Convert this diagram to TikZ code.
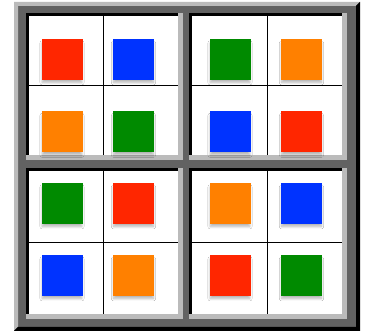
\documentclass[tikz,border=0pt]{standalone}
\usetikzlibrary{shadows.blur}
\definecolor{framedark}{RGB}{98, 98, 98}
\definecolor{framelight}{RGB}{187, 187, 187}
\definecolor{tilered}{RGB}{255, 38, 0}
\definecolor{tileblue}{RGB}{0, 51, 255}
\definecolor{tileorange}{RGB}{255, 128, 0}
\definecolor{tilegreen}{RGB}{0, 138, 0}

% one quadrant: white cells, black edge top/left, light edge bottom/right
\newcommand{\quadbox}[4]{%
  \fill[framelight] (#1-3,#2-5) rectangle (#3+5,#4+3);
  \fill[black] (#1-3,#2) rectangle (#3,#4+3);
  \fill[white] (#1,#2) rectangle (#3,#4);
  \draw[cellline] ({(#1+#3)/2},#2) -- ({(#1+#3)/2},#4);
  \draw[cellline] (#1,{(#2+#4)/2}) -- (#3,{(#2+#4)/2});
}

\begin{document}
\begin{tikzpicture}[x=1pt, y=1pt,
    tile/.style={minimum size=41pt, inner sep=0pt,
        blur shadow={shadow xshift=0pt, shadow yshift=-3.5pt,
            shadow scale=0.96, shadow blur radius=2.5pt,
            shadow blur steps=10, shadow opacity=30}},
    cellline/.style={line width=0.8pt, black}]

    \useasboundingbox (0,0) rectangle (365,331);

    % outer frame
    \fill[framedark] (14,0) rectangle (360,329);
    \fill[framelight] (14,0) -- (14,329) -- (360,329) -- (356,325) -- (18,325) -- (18,4) -- cycle;
    \fill[black] (14,0) -- (360,0) -- (360,329) -- (356,325) -- (356,4) -- (18,4) -- cycle;

    % quadrants
    \quadbox{29}{176}{178}{315}
    \quadbox{192}{176}{342}{315}
    \quadbox{29}{17}{178}{160}
    \quadbox{192}{17}{342}{160}

    % top left
    \node[tile, fill=tilered] (qaa) at (62, 271.5) {};
    \node[tile, fill=tileblue] (qab) at (133.5, 271.5) {};
    \node[tile, fill=tileorange] (qac) at (62, 199) {};
    \node[tile, fill=tilegreen] (qad) at (133.5, 199) {};

    % top right
    \node[tile, fill=tilegreen] (qba) at (230, 271.5) {};
    \node[tile, fill=tileorange] (qbb) at (301.5, 271.5) {};
    \node[tile, fill=tileblue] (qbc) at (230, 199) {};
    \node[tile, fill=tilered] (qbd) at (301.5, 199) {};

    % bottom left
    \node[tile, fill=tilegreen] (qca) at (62, 127.5) {};
    \node[tile, fill=tilered] (qcb) at (133.5, 127.5) {};
    \node[tile, fill=tileblue] (qcc) at (62, 55.5) {};
    \node[tile, fill=tileorange] (qcd) at (133.5, 55.5) {};

    % bottom right
    \node[tile, fill=tileorange] (qda) at (230, 127.5) {};
    \node[tile, fill=tileblue] (qdb) at (301.5, 127.5) {};
    \node[tile, fill=tilered] (qdc) at (230, 55.5) {};
    \node[tile, fill=tilegreen] (qdd) at (301.5, 55.5) {};

\end{tikzpicture}
\end{document}
